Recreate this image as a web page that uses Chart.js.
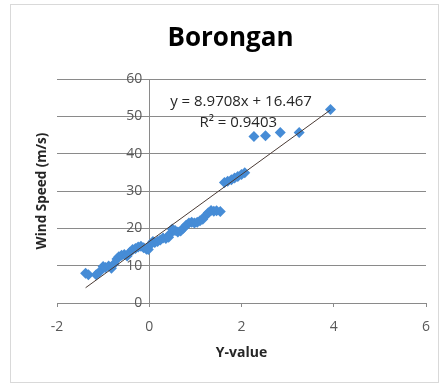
<!DOCTYPE html>
<html>
<head>
<meta charset="utf-8">
<script src="https://cdn.jsdelivr.net/npm/chart.js@4/dist/chart.umd.min.js"></script>
<style>
  body { margin: 0; background: #fff; }
  #box { position: absolute; left: 10px; top: 4px; width: 427px; height: 377px; border: 1px solid #d9d9d9; }
</style>
</head>
<body>
<div id="box"><canvas id="windChart" width="427" height="377"></canvas></div>
<script>
// probability plot data: normal quantile (Y-value) vs wind speed
const yValues = [-1.38, -1.32, -1.15, -1.08, -1.0, -0.95, -0.88, -0.82, -0.76, -0.7, -0.66, -0.6, -0.54, -0.48,
                 -0.42, -0.36, -0.3, -0.24, -0.18, -0.12, -0.06, -0.02, 0.04, 0.08, 0.12,
                 0.18, 0.24, 0.3, 0.36, 0.42, 0.46, 0.5, 0.56, 0.62, 0.68,
                 0.74, 0.8, 0.86, 0.92, 0.98, 1.04, 1.1, 1.16,
                 1.22, 1.28, 1.34, 1.4, 1.46, 1.54,
                 1.63, 1.7, 1.78, 1.85, 1.92, 2.0, 2.07,
                 2.27, 2.52, 2.84, 3.25, 3.93];
const windSpeed = [8.0, 7.6, 7.6, 8.3, 9.8, 9.5, 9.9, 9.3, 10.5, 11.8, 12.4, 12.8, 13.0, 12.6,
                   13.6, 14.3, 14.6, 15.0, 15.2, 14.8, 14.4, 14.3, 15.8, 16.5, 16.2,
                   16.5, 16.9, 17.4, 17.3, 17.6, 18.6, 19.8, 19.4, 19.0, 19.3,
                   20.0, 20.8, 21.4, 21.6, 21.4, 21.6, 22.0, 22.4,
                   23.4, 24.2, 24.8, 24.6, 24.7, 24.5,
                   32.3, 32.6, 33.0, 33.5, 33.9, 34.4, 34.9,
                   44.6, 44.8, 45.7, 45.7, 51.8];
const xTicks = [-2, 0, 2, 4, 6];
const yTicks = [0, 10, 20, 30, 40, 50, 60];

// trendline as shown on the chart
const slope = 8.9708;
const intercept = 16.467;
const rSquared = 0.9403;

const points = yValues.map((v, i) => ({ x: v, y: windSpeed[i] }));
const xMin = Math.min(...yValues), xMax = Math.max(...yValues);
const trend = [xMin, xMax].map(v => ({ x: v, y: slope * v + intercept }));

const fontFamily = "'Open Sans', 'Liberation Sans', sans-serif";
const gridColor = "#8a8a8a";

// title and equation label
const labels = {
    id: "labels",
    afterDraw(chart) {
        const c = chart.ctx, xs = chart.scales.x, ys = chart.scales.y;
        const area = chart.chartArea;
        c.save();
        c.textAlign = "center";
        c.textBaseline = "middle";
        c.fillStyle = "#000";
        c.font = "bold 26px " + fontFamily;
        c.fillText("Borongan", (area.left + area.right) / 2 - 11, 34);
        c.font = "15px " + fontFamily;
        c.fillStyle = "#262626";
        c.fillText("y = " + slope + "x + " + intercept, xs.getPixelForValue(1.99), ys.getPixelForValue(54.0));
        c.fillText("R² = " + rSquared, xs.getPixelForValue(1.93), ys.getPixelForValue(48.3));
        c.restore();
    }
};

new Chart(document.getElementById("windChart"), {
    type: "scatter",
    data: {
        datasets: [
            { label: "Trend", type: "line", data: trend, borderColor: "#4a3a34", borderWidth: 1,
              pointRadius: 0, fill: false, order: 0 },
            { label: "Wind Speed", data: points, pointStyle: "rectRot", pointRadius: 5.5,
              backgroundColor: "#468cd6", borderColor: "#468cd6", borderWidth: 0, order: 1 }
        ]
    },
    options: {
        responsive: false,
        animation: false,
        layout: { padding: { left: 0, right: 12, top: 74, bottom: 0 } },
        plugins: {
            legend: { display: false },
            tooltip: { enabled: false },
            title: { display: false }
        },
        scales: {
            x: {
                type: "linear", min: -2, max: 6,
                afterBuildTicks: s => { s.ticks = xTicks.map(v => ({ value: v })); },
                afterFit: s => { s.height = 79; s.paddingLeft = 0; s.paddingRight = 0; },
                grid: { drawOnChartArea: true, drawTicks: true, tickLength: 4,
                        color: ctx => (ctx.tick && ctx.tick.value === 0) ? gridColor : "rgba(0,0,0,0)",
                        tickColor: gridColor },
                border: { color: gridColor },
                ticks: { color: "#595959", padding: 12, font: { family: fontFamily, size: 14 } },
                title: { display: true, text: "Y-value", color: "#262626",
                         font: { family: fontFamily, size: 14, weight: "bold" }, padding: { top: 0, bottom: 21 } }
            },
            y: {
                type: "linear", min: 0, max: 60, position: "left",
                afterBuildTicks: s => { s.ticks = yTicks.map(v => ({ value: v })); },
                afterFit: s => { s.width = 46; },
                grid: { color: gridColor, drawTicks: false },
                border: { display: false },
                ticks: { display: false },
                title: { display: true, text: "Wind Speed (m/s)", color: "#262626",
                         font: { family: fontFamily, size: 13.5, weight: "bold" }, padding: { top: 23, bottom: 0 } }
            },
            y2: {
                axis: "y", type: "linear", min: 0, max: 60, position: { x: -0.15 },
                afterBuildTicks: s => { s.ticks = yTicks.map(v => ({ value: v })); },
                afterFit: s => { s.width = 0; },
                grid: { display: false },
                border: { display: false },
                ticks: { color: "#595959", font: { family: fontFamily, size: 14 } }
            }
        }
    },
    plugins: [labels]
});
</script>
</body>
</html>
